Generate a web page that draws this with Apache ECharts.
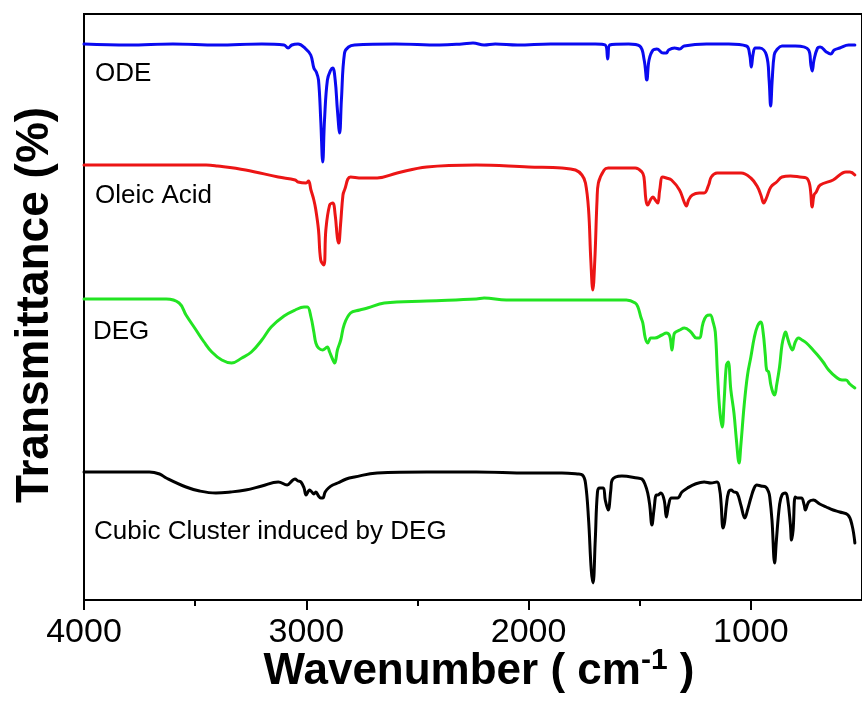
<!DOCTYPE html>
<html>
<head>
<meta charset="utf-8">
<script src="https://cdn.jsdelivr.net/npm/echarts@6/dist/echarts.min.js"></script>
<style>
html,body{margin:0;padding:0;background:#fff;}
#c{width:862px;height:704px;}
</style>
</head>
<body>
<div id="c"></div>
<script>
// ---- data: [wavenumber (cm-1), transmittance (offset, a.u.)] ----
var odeData = [[4000,556],[3800,555],[3600,556],[3400,555],[3200,556],[3100,555],[3082,552],[3065,555],[3037,556],[3006,552],[2980,545],[2966,532],[2955,528],[2945,520],[2935,480],[2926,438],[2918,480],[2905,520],[2890,530],[2881,532],[2870,520],[2860,490],[2850,467],[2842,500],[2828,547],[2810,553],[2783,555],[2600,556],[2400,555],[2300,556],[2250,557],[2200,555],[2150,556],[2050,555],[1900,556],[1700,556],[1655,555],[1644,541],[1635,555],[1550,556],[1500,554],[1480,540],[1468,520],[1458,540],[1440,550],[1423,551],[1395,547],[1380,547],[1370,550],[1343,552],[1320,551],[1300,554],[1200,556],[1100,556],[1020,554],[1005,545],[998,533],[990,546],[980,552],[960,552],[930,545],[918,520],[911,494],[904,520],[895,545],[884,550],[860,554],[800,554],[740,550],[730,535],[724,529],[716,540],[700,552],[688,553],[660,548],[641,546],[625,550],[600,552],[560,555],[532,555]];

var oleicData = [[4000,435],[3800,435],[3600,435],[3450,435],[3400,434],[3273,430],[3126,423],[3050,420],[3037,418],[3001,417],[2990,419],[2979,410],[2966,400],[2957,390],[2945,370],[2935,340],[2921,335],[2912,370],[2895,395],[2881,397],[2870,385],[2860,362],[2854,357],[2846,375],[2835,405],[2828,410],[2801,423],[2750,422],[2681,422],[2591,427],[2458,433],[2235,435],[2000,433],[1850,432],[1789,430],[1760,425],[1744,417],[1730,390],[1720,340],[1711,310],[1702,340],[1692,400],[1686,417],[1660,430],[1642,432],[1520,432],[1490,428],[1481,423],[1472,400],[1464,395],[1452,400],[1441,403],[1430,400],[1419,397],[1410,410],[1397,423],[1380,422],[1357,420],[1321,410],[1300,398],[1290,394],[1280,400],[1263,405],[1232,407],[1210,407],[1190,415],[1178,423],[1152,427],[1100,427],[1044,427],[1000,422],[970,413],[955,405],[942,397],[930,402],[910,413],[884,418],[860,423],[822,424],[780,423],[750,422],[735,415],[724,393],[716,405],[706,408],[688,415],[630,420],[572,428],[554,428],[532,425]];

var degData = [[4000,301],[3900,301],[3750,301],[3630,301],[3572,297],[3541,285],[3496,270],[3460,258],[3425,248],[3380,240],[3336,237],[3290,242],[3247,248],[3200,260],[3158,273],[3100,284],[3050,290],[3010,293],[2995,293],[2979,283],[2966,268],[2957,257],[2945,252],[2926,250],[2912,252],[2905,253],[2895,248],[2880,240],[2872,237],[2860,250],[2845,260],[2830,275],[2801,287],[2760,290],[2725,292],[2649,297],[2458,299],[2235,301],[2200,302],[2100,300],[1900,300],[1700,300],[1560,300],[1520,297],[1508,293],[1495,283],[1486,277],[1475,262],[1464,257],[1450,262],[1432,262],[1400,265],[1380,267],[1365,264],[1355,250],[1348,262],[1343,267],[1320,270],[1299,272],[1270,268],[1245,262],[1232,262],[1215,277],[1200,284],[1183,285],[1170,278],[1160,268],[1150,225],[1140,190],[1129,173],[1120,200],[1110,235],[1102,238],[1090,210],[1076,187],[1065,160],[1053,137],[1045,155],[1030,195],[1015,225],[1000,243],[985,262],[970,274],[955,278],[945,268],[935,245],[929,230],[920,228],[910,215],[900,207],[893,205],[884,215],[871,233],[860,255],[850,265],[844,268],[835,262],[825,255],[813,250],[800,258],[786,262],[770,260],[750,257],[720,250],[700,245],[675,238],[650,230],[617,223],[590,220],[572,220],[555,216],[532,212]];

var cubicData = [[4000,128],[3850,128],[3706,128],[3660,126],[3630,122],[3541,113],[3480,109],[3407,107],[3340,108],[3273,110],[3200,114],[3126,118],[3086,115],[3065,119],[3051,121],[3037,119],[3024,118],[3010,112],[3001,105],[2985,110],[2975,108],[2966,106],[2957,108],[2945,104],[2935,102],[2926,102],[2915,108],[2900,112],[2881,115],[2859,117],[2820,121],[2783,123],[2681,127],[2458,128],[2235,128],[2000,127],[1850,127],[1780,126],[1758,125],[1744,117],[1730,80],[1718,30],[1710,17],[1700,60],[1690,108],[1680,112],[1664,112],[1655,100],[1642,90],[1630,110],[1624,120],[1580,124],[1510,122],[1490,121],[1475,115],[1464,107],[1455,95],[1445,75],[1436,90],[1425,105],[1419,105],[1405,107],[1390,100],[1380,83],[1370,95],[1357,102],[1330,102],[1310,108],[1285,112],[1250,116],[1210,118],[1180,117],[1152,118],[1140,110],[1134,97],[1125,72],[1118,78],[1110,95],[1100,108],[1089,110],[1076,108],[1062,107],[1045,95],[1027,82],[1015,90],[1000,102],[985,112],[973,115],[955,114],[933,113],[920,108],[915,103],[905,80],[893,37],[885,60],[871,95],[860,105],[844,107],[835,102],[822,75],[817,60],[810,70],[800,103],[790,102],[773,102],[760,95],[755,90],[740,98],[719,100],[690,96],[661,93],[630,90],[600,88],[563,85],[545,75],[532,57]];

var seriesNames = ['ODE', 'Oleic Acid', 'DEG', 'Cubic Cluster induced by DEG'];
var majorTicks = [4000, 3000, 2000, 1000];
var minorTicks = [3500, 2500, 1500];

var chart = echarts.init(document.getElementById('c'));
var FONT = 'Arial, "Liberation Sans", sans-serif';
function line(name, data, color) {
  return {
    name: name, type: 'line', data: data, showSymbol: false,
    smooth: 0.4,
    lineStyle: {color: color, width: 3, join: 'round', cap: 'round'}, itemStyle: {color: color},
    animation: false
  };
}
chart.setOption({
  backgroundColor: '#fff',
  animation: false,
  grid: {left: 84, right: -7, top: 14, bottom: 104, show: true, borderColor: '#000', borderWidth: 2},
  xAxis: [{
    type: 'value', min: 500, max: 4000, inverse: true,
    axisLine: {show: true, lineStyle: {color: '#000', width: 2}},
    axisTick: {show: true, inside: false, length: 10, customValues: majorTicks, lineStyle: {color: '#000', width: 2}},
    axisLabel: {show: true, customValues: majorTicks, fontSize: 34, fontFamily: FONT, color: '#000', margin: 16,
      formatter: function (v) { return String(v); }},
    splitLine: {show: false}
  }, {
    type: 'value', min: 500, max: 4000, inverse: true, position: 'bottom',
    axisLine: {show: false},
    axisTick: {show: true, inside: false, length: 6, customValues: minorTicks, lineStyle: {color: '#000', width: 2}},
    axisLabel: {show: false},
    splitLine: {show: false}
  }],
  yAxis: {
    type: 'value', min: 0, max: 586,
    axisLine: {show: true, lineStyle: {color: '#000', width: 2}},
    axisTick: {show: false}, axisLabel: {show: false}, splitLine: {show: false}
  },
  series: [
    line(seriesNames[0], odeData, '#0a0af0'),
    line(seriesNames[1], oleicData, '#ec1515'),
    line(seriesNames[2], degData, '#22e422'),
    line(seriesNames[3], cubicData, '#000000')
  ],
  graphic: [
    {type: 'text', left: 95, top: 61, style: {text: seriesNames[0], font: '26px ' + FONT, fill: '#000'}},
    {type: 'text', left: 95, top: 183, style: {text: seriesNames[1], font: '26px ' + FONT, fill: '#000'}},
    {type: 'text', left: 93, top: 319, style: {text: seriesNames[2], font: '26px ' + FONT, fill: '#000'}},
    {type: 'text', left: 94, top: 519, style: {text: seriesNames[3], font: '26px ' + FONT, fill: '#000'}},
    {type: 'text', x: 35, y: 305, rotation: Math.PI / 2,
      style: {text: 'Transmittance (%)', font: 'bold 46px ' + FONT, fill: '#000', align: 'center', verticalAlign: 'middle'}},
    {type: 'text', x: 479, y: 672,
      style: {text: '{a|Wavenumber ( cm}{s|-1}{a| )}', align: 'center', verticalAlign: 'middle', fill: '#000',
        rich: {a: {font: 'bold 44px ' + FONT, fill: '#000'}, s: {font: 'bold 30px ' + FONT, fill: '#000', verticalAlign: 'top', padding: [0,0,22,0]}}}}
  ]
});
</script>
</body>
</html>
